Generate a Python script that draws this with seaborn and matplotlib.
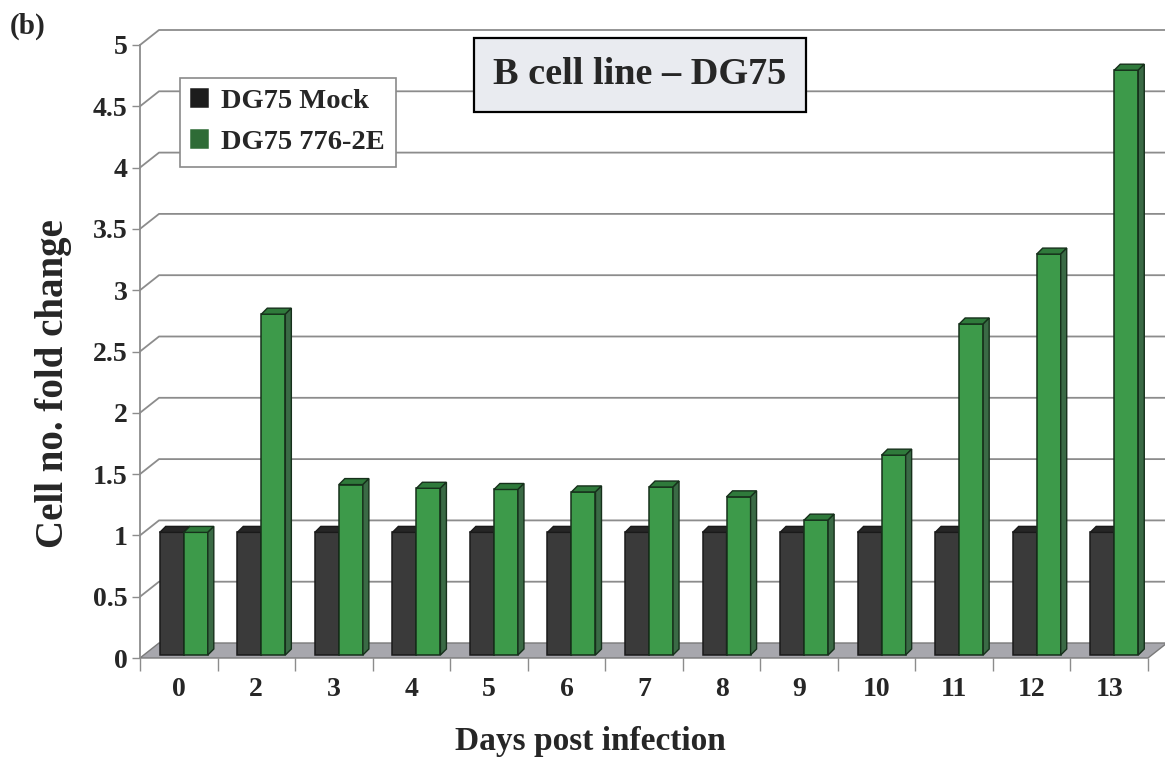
import matplotlib
matplotlib.use("Agg")
import matplotlib.pyplot as plt
import numpy as np
import pandas as pd
import seaborn as sns
from matplotlib.patches import Polygon
from matplotlib.lines import Line2D
from matplotlib.transforms import ScaledTranslation

# ---------------- data ----------------
days = ["0", "2", "3", "4", "5", "6", "7", "8", "9", "10", "11", "12", "13"]
mock = [1.0, 1.0, 1.0, 1.0, 1.0, 1.0, 1.0, 1.0, 1.0, 1.0, 1.0, 1.0, 1.0]
infected = [1.0, 2.78, 1.39, 1.36, 1.35, 1.33, 1.37, 1.29, 1.10, 1.63, 2.70, 3.27, 4.77]
series = ["DG75 Mock", "DG75 776-2E"]
yticks = [0, 0.5, 1, 1.5, 2, 2.5, 3, 3.5, 4, 4.5, 5]
ytick_labels = ["0", "0.5", "1", "1.5", "2", "2.5", "3", "3.5", "4", "4.5", "5"]
title = "B cell line – DG75"
xlabel = "Days post infection"
ylabel = "Cell no. fold change"
panel = "(b)"

df = pd.DataFrame({
    "day": days * 2,
    "fold": mock + infected,
    "series": [series[0]] * len(days) + [series[1]] * len(days),
})

# ---------------- style ----------------
sns.set_theme(style="white")
plt.rcParams["font.family"] = ["Liberation Serif", "DejaVu Serif"]
plt.rcParams["font.weight"] = "bold"

front = ["#3a3a3a", "#3d9a4a"]
topc = ["#262626", "#2f7a3b"]
sidec = ["#1e1e1e", "#3a6a45"]
edge = ["#1a1a1a", "#16301b"]
legend_col = ["#1c1c1c", "#2e6b36"]

W, H = 1165, 760
fig = plt.figure(figsize=(W / 100, H / 100), dpi=100)
ax_l, ax_r, ax_b, ax_t = 140, 1148, 658, 45
ax = fig.add_axes([ax_l / W, (H - ax_b) / H, (ax_r - ax_l) / W, (ax_b - ax_t) / H])

sns.barplot(data=df, x="day", y="fold", hue="series", palette=front,
            width=0.62, saturation=1, linewidth=1.1, edgecolor="#1a1a1a",
            ax=ax, zorder=3)
ax.set_xlim(-0.5, len(days) - 0.5)
ax.set_ylim(0, 5)

sx = (ax_r - ax_l) / len(days)   # px per category
sy = (ax_b - ax_t) / 5.0         # px per unit
DX, DY = 19 / sx, 15 / sy        # wall depth
ddx, ddy = 6 / sx, 6 / sy        # bar depth
shift = ax.transData + ScaledTranslation(5 / 100, 3 / 100, fig.dpi_scale_trans)

# floor
xmin, xmax = -0.5, len(days) - 0.5
floor = Polygon([(xmin, 0), (xmax, 0), (xmax + DX, DY), (xmin + DX, DY)],
                closed=True, facecolor="#a7a7ad", edgecolor="#7a7a7a",
                linewidth=1.0, zorder=1, clip_on=False)
ax.add_patch(floor)

# back wall gridlines
for v in yticks[1:]:
    ax.add_line(Line2D([xmin, xmin + DX, xmax + DX], [v, v + DY, v + DY],
                       color="#8c8c8c", linewidth=1.3, zorder=0.5, clip_on=False))

# pseudo-3D bars
for i, cont in enumerate(ax.containers):
    for bar in cont:
        x, w, h = bar.get_x(), bar.get_width(), bar.get_height()
        z = 3 + i * 0.2
        bar.set_transform(shift)
        bar.set_zorder(z)
        bar.set_edgecolor(edge[i])
        top = Polygon([(x, h), (x + w, h), (x + w + ddx, h + ddy), (x + ddx, h + ddy)],
                      closed=True, facecolor=topc[i], edgecolor=edge[i],
                      linewidth=1.0, zorder=z + 0.1, transform=shift, clip_on=False)
        side = Polygon([(x + w, 0), (x + w + ddx, ddy), (x + w + ddx, h + ddy), (x + w, h)],
                       closed=True, facecolor=sidec[i], edgecolor=edge[i],
                       linewidth=1.0, zorder=z + 0.1, transform=shift, clip_on=False)
        ax.add_patch(top)
        ax.add_patch(side)

# axes styling
for s in ["top", "right", "bottom"]:
    ax.spines[s].set_visible(False)
ax.spines["left"].set_color("#8c8c8c")
ax.spines["left"].set_linewidth(1.3)
ax.set_yticks(yticks)
ax.set_yticklabels(ytick_labels, fontsize=20, fontweight="bold")
ax.tick_params(axis="y", length=6, width=1.0, color="#8c8c8c", pad=3, left=True)
ax.set_xticks(range(len(days)))
ax.set_xticklabels(days, fontsize=20, fontweight="bold")
ax.set_xticks(np.arange(-0.5, len(days), 1.0), minor=True)
ax.tick_params(axis="x", which="major", length=0, pad=14)
ax.tick_params(axis="x", which="minor", length=9, width=1.0, color="#8c8c8c", bottom=True)

ax.set_xlabel(xlabel, fontsize=24, fontweight="bold")
ax.xaxis.set_label_coords((590 - ax_l) / (ax_r - ax_l), (ax_b - 726) / (ax_b - ax_t))
ax.set_ylabel(ylabel, fontsize=28, fontweight="bold")
ax.yaxis.set_label_coords((72 - ax_l) / (ax_r - ax_l), (ax_b - 384) / (ax_b - ax_t))

# legend
sns.move_legend(ax, "upper left",
                bbox_to_anchor=((180 - ax_l) / (ax_r - ax_l), (ax_b - 78) / (ax_b - ax_t)),
                title=None, frameon=True, fancybox=False, framealpha=1,
                facecolor="white", edgecolor="#8a8a8a", borderaxespad=0,
                fontsize=20.5, handlelength=0.6, handleheight=0.6,
                handletextpad=0.45, labelspacing=0.55, borderpad=0.4)
leg = ax.get_legend()
leg.set_zorder(10)
leg.get_frame().set_linewidth(1.2)
for t in leg.get_texts():
    t.set_fontweight("bold")
for hnd, c in zip(leg.legend_handles, legend_col):
    hnd.set_facecolor(c)
    hnd.set_edgecolor(c)

# title box
ax.text((640 - ax_l) / (ax_r - ax_l), (ax_b - 75) / (ax_b - ax_t), title,
        transform=ax.transAxes, ha="center", va="center", fontsize=27.5,
        fontweight="bold", zorder=10,
        bbox=dict(boxstyle="square,pad=0.52", facecolor="#e9ebf0",
                  edgecolor="black", linewidth=1.6))

fig.text(10 / W, 1 - 26 / H, panel, fontsize=21, fontweight="bold",
         ha="left", va="center")

fig.savefig("out.png", dpi=100)
